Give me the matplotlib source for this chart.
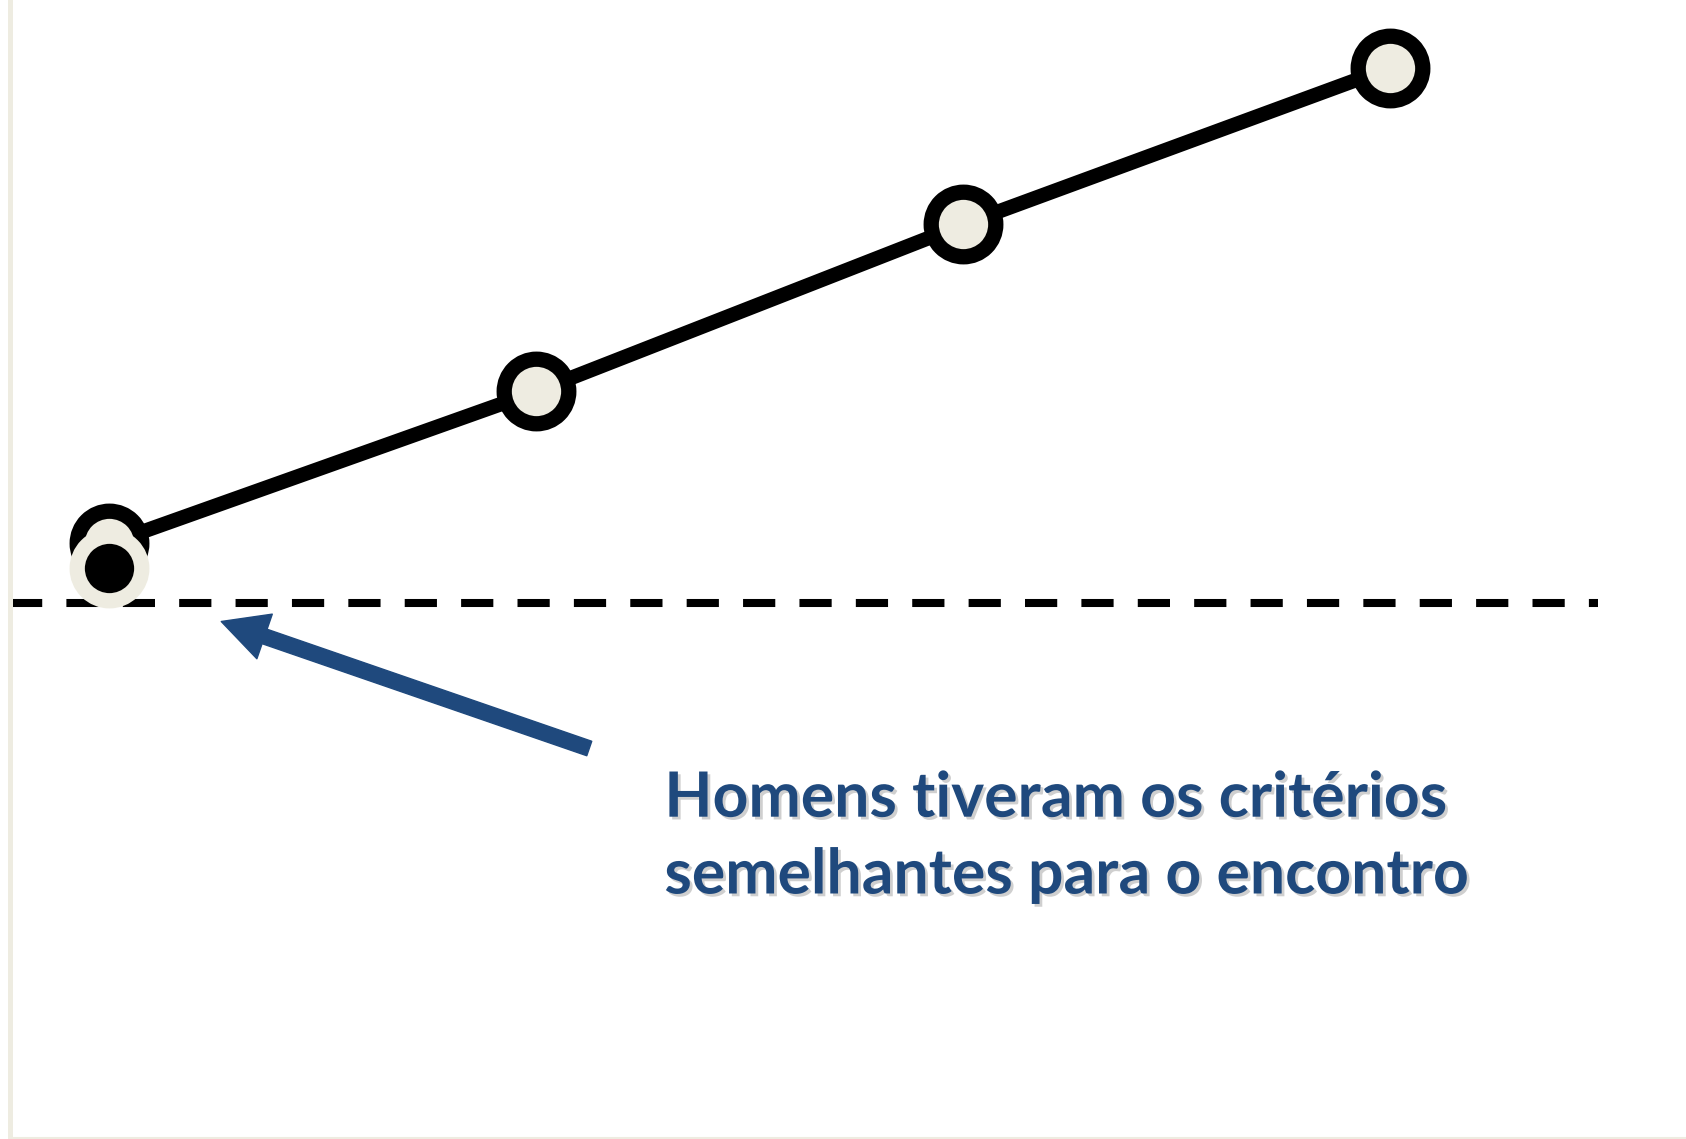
import matplotlib.pyplot as plt
import matplotlib.patheffects as pe

# series values (arbitrary units)
x_pos = [0, 1, 2, 3]
homens = [5.94, 7.46, 9.13, 10.70]
mulheres_x = [0]
mulheres = [5.69]
referencia = 5.35

label_txt = "Homens tiveram os critérios\nsemelhantes para o encontro"

BEIGE = "#EEECE1"
BLUE = "#1F497D"

fig = plt.figure(figsize=(16.86, 11.39), dpi=100)
ax = fig.add_axes([9.5 / 1686, 1.5 / 1139, 1 - 9.5 / 1686, 1 - 1.5 / 1139])

ax.set_xlim(-0.234, 3.693)
ax.set_ylim(0, 11.375)

# dashed reference line
ax.hlines(referencia, -0.234, 3.487, colors="black", linewidth=5.8,
          linestyles=(0, (4, 3)), zorder=2)

ax.plot(x_pos, homens, color="black", linewidth=10.5, marker="o",
        markersize=46.5, markeredgewidth=11, markerfacecolor=BEIGE,
        markeredgecolor="black", zorder=3)
ax.plot(mulheres_x, mulheres, linestyle="none", marker="o",
        markersize=46.5, markeredgewidth=11, markerfacecolor="black",
        markeredgecolor=BEIGE, zorder=4)

# arrow pointing to the first point
ax.annotate("", xy=(0.262, 5.16), xytext=(1.124, 3.89),
            arrowprops=dict(arrowstyle="simple,head_length=1.65,head_width=1.7,tail_width=0.55",
                            color=BLUE, shrinkA=0, shrinkB=0, mutation_scale=20))

t = ax.text(1.30, 2.44, label_txt, fontsize=45, fontweight="bold",
            family="Lato", color=BLUE, ha="left", va="baseline",
            linespacing=1.4)
t.set_path_effects([pe.SimplePatchShadow(offset=(2, -2), shadow_rgbFace="#777777", alpha=0.35),
                    pe.Normal()])

ax.set_xticks([])
ax.set_yticks([])
ax.spines["top"].set_visible(False)
ax.spines["right"].set_visible(False)
ax.spines["left"].set_color(BEIGE)
ax.spines["left"].set_linewidth(3.6)
ax.spines["bottom"].set_color(BEIGE)
ax.spines["bottom"].set_linewidth(1.5)

fig.savefig("out.png", dpi=100)
